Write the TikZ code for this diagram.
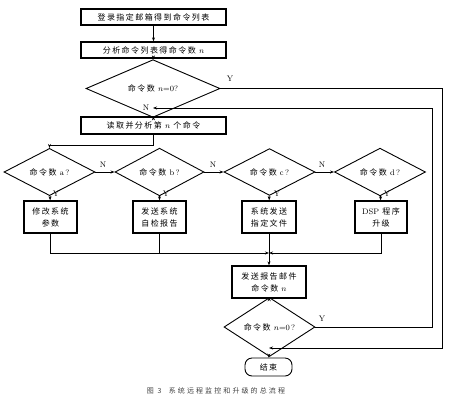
\documentclass[tikz,border=0pt]{standalone}
\usepackage{fontspec}
\newfontfamily\cjk[LetterSpace=18]{Noto Sans CJK SC}
\newfontfamily\cjkcap[LetterSpace=30]{Noto Sans CJK SC}
\usetikzlibrary{arrows.meta,shapes.geometric}
\tikzset{
  every node/.style={font=\cjk\fontsize{8}{12}\selectfont},
  box/.style={draw, line width=1.3pt, rectangle, inner sep=0pt, align=center},
  dia/.style={draw, line width=0.9pt, diamond, inner sep=0pt},
  term/.style={draw, line width=0.9pt, rounded corners=7pt, inner sep=0pt},
  ln/.style={line width=1pt},
  ar/.style={line width=1pt, -{Stealth[length=4pt,width=3pt]}},
  lab/.style={font=\fontsize{8}{10}\selectfont},
}
\newcommand{\lat}[1]{{\rmfamily #1}}
\begin{document}
\begin{tikzpicture}[x=1pt,y=-1pt]
\useasboundingbox (0,0) rectangle (454,402);
\node[box, minimum width=145pt, minimum height=16pt] (b1) at (153.5,17) {登录指定邮箱得到命令列表};
\node[box, minimum width=145pt, minimum height=16pt] (b2) at (153.5,50) {分析命令列表得命令数 $n$};
\node[dia, minimum width=134pt, minimum height=25pt] (d1) at (153,88.5) {命令数 $n$\lat{=0?}};
\node[box, minimum width=145pt, minimum height=17pt] (b3) at (153.5,125.5) {读取并分析第 $n$ 个命令};
\node[dia, minimum width=91pt, minimum height=29pt] (da) at (49.5,172) {命令数 \lat{a\,?}};
\node[dia, minimum width=89pt, minimum height=29pt] (db) at (159.5,172) {命令数 \lat{b\,?}};
\node[dia, minimum width=91pt, minimum height=29pt] (dc) at (269.5,172) {命令数 \lat{c\,?}};
\node[dia, minimum width=91pt, minimum height=29pt] (dd) at (380,172) {命令数 \lat{d\,?}};
\node[box, minimum width=53pt, minimum height=32pt] (ba) at (50.5,217) {修改系统\\参数};
\node[box, minimum width=53pt, minimum height=32pt] (bb) at (159.5,217) {发送系统\\自检报告};
\node[box, minimum width=54pt, minimum height=32pt] (bc) at (269,217) {系统发送\\指定文件};
\node[box, minimum width=52pt, minimum height=32pt] (bd) at (381,217) {\lat{DSP} 程序\\升级};
\node[box, minimum width=74pt, minimum height=32pt] (b5) at (269,282) {发送报告邮件\\命令数 $n$};
\node[dia, minimum width=91pt, minimum height=28pt] (d2) at (269.5,327) {命令数 $n$\lat{=0\,?}};
\node[term, minimum width=47pt, minimum height=18pt] (e) at (268.5,367) {结束};
\node[font=\cjkcap\fontsize{7}{9}\selectfont, text=black!75] (cap) at (216,391) {图 3\ \ 系统远程监控和升级的总流程};

\coordinate (m) at (269,253);
\coordinate (j1) at (153,108);
\coordinate (j2) at (269,348);

\draw[ar] (b1) -- (b2);
\draw[ar] (b2) -- (d1);
\draw[ar] (d1) -- (b3);
\draw[ar] (b3.south) -- ++(0,11) -| (da.north);
\draw[ar] (da) -- (db);
\draw[ar] (db) -- (dc);
\draw[ar] (dc) -- (dd);
\draw[ar] (da) -- (ba);
\draw[ar] (db) -- (bb);
\draw[ar] (dc) -- (bc);
\draw[ar] (dd) -- (bd);
\draw[ar] (ba.south) |- (m);
\draw[ln] (bb.south) -- (bb.south |- m);
\draw[ar] (bd.south) |- (m);
\draw[ar] (bc) -- (b5);
\draw[ar] (b5) -- (d2);
\draw[ar] (d2) -- (e);
\draw[ar] (d1.east) -- (442,88.5) |- (j2);
\draw[ar] (d2.east) -- (432,327) |- (j1);

\node[lab] (y1) at (230,79) {Y};
\node[lab] (n1) at (146,108) {N};
\node[lab] (na) at (103,165) {N};
\node[lab] (nb) at (213,165) {N};
\node[lab] (nc) at (322,165) {N};
\node[lab] (ya) at (56,194) {Y};
\node[lab] (yb) at (166,194) {Y};
\node[lab] (yc) at (277,194) {Y};
\node[lab] (yd) at (387,194) {Y};
\node[lab] (y2) at (322,319) {Y};
\end{tikzpicture}
\end{document}
